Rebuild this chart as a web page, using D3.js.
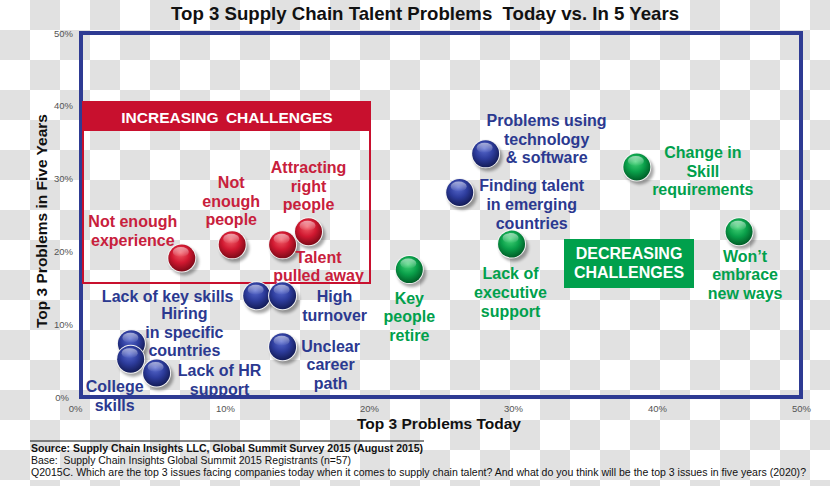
<!DOCTYPE html>
<html><head><meta charset="utf-8">
<script src="https://cdn.jsdelivr.net/npm/d3@7/dist/d3.min.js"></script>
<style>
html,body{margin:0;padding:0;background:#fff;}
svg{display:block;font-family:"Liberation Sans",Arial,sans-serif;}
.pre{white-space:pre;}
</style></head>
<body>
<svg id="chart" width="830" height="486"></svg>
<script>
// ---- data ----
const problems = [
  "Not enough\nexperience", "Not\nenough\npeople", "Attracting\nright\npeople", "Talent\npulled away",
  "Lack of key skills", "High\nturnover", "Hiring\nin specific\ncountries", "College\nskills",
  "Lack of HR\nsupport", "Unclear\ncareer\npath", "Problems using\ntechnology\n& software", "Finding talent\nin emerging\ncountries",
  "Key\npeople\nretire", "Lack of\nexecutive\nsupport", "Change in\nSkill\nrequirements", "Won\u2019t\nembrace\nnew ways"
];
const today     = [7.0, 10.5, 14.0, 15.8, 12.2, 14.0, 3.5, 3.45, 5.25, 14.0, 28.1, 26.3, 22.8, 29.9, 38.6, 45.7];
const fiveYears = [19.1, 20.9, 20.9, 22.7, 13.9, 13.9, 7.3, 5.2, 3.3, 6.9, 33.4, 28.1, 17.5, 21.0, 31.6, 22.7];
const trend     = ["up","up","up","up","flat","flat","flat","flat","flat","flat","flat","flat","down","down","down","down"];
const tickValues = [0, 10, 20, 30, 40, 50];
const tickLabels = ["0%", "10%", "20%", "30%", "40%", "50%"];
const titleText = "Top 3 Supply Chain Talent Problems  Today vs. In 5 Years";
const xTitle = "Top 3 Problems Today";
const yTitle = "Top 3 Problems in Five Years";
const regionTexts = ["INCREASING CHALLENGES", "DECREASING\nCHALLENGES"];
const notes = [
  "Source: Supply Chain Insights LLC, Global Summit Survey 2015 (August 2015)",
  "Base:  Supply Chain Insights Global Summit 2015 Registrants (n=57)",
  "Q2015C. Which are the top 3 issues facing companies today when it comes to supply chain talent? And what do you think will be the top 3 issues in five years (2020)?"
];

// ---- layout (label offsets from each ball, pixels) ----
const labelLayout = [
  [-49,-37],[-1,-63],[26,-78],[10,25],
  [-89,0],[52,0],[53,-31],[-16,27],
  [63,-3],[48,-1],[61,-34],[72,-7],
  [0,28],[-1,29],[66,-15],[6,24]
];
const palette = {
  up:   {text:"#c8203c", c0:"#f4606a", c1:"#d01830", c2:"#7e0a18"},
  flat: {text:"#2b3990", c0:"#5a6cd0", c1:"#2d3c9c", c2:"#141c58"},
  down: {text:"#00a04c", c0:"#48d67a", c1:"#0aa04a", c2:"#005f28"}
};

const svg = d3.select("#chart");
const W = 830, H = 486;
const x = d3.scaleLinear().domain([0, 50]).range([81, 801]);
const y = d3.scaleLinear().domain([0, 50]).range([397, 33]);

// checkerboard background
const defs = svg.append("defs");
const pat = defs.append("pattern").attr("id","chk").attr("width",60).attr("height",60)
  .attr("patternUnits","userSpaceOnUse");
pat.append("rect").attr("width",60).attr("height",60).attr("fill","#ffffff");
pat.append("rect").attr("x",30).attr("y",0).attr("width",30).attr("height",30).attr("fill","#e1e1e1");
pat.append("rect").attr("x",0).attr("y",30).attr("width",30).attr("height",30).attr("fill","#e1e1e1");
svg.append("rect").attr("width",W).attr("height",H).attr("fill","url(#chk)");

// gradients for balls
Object.entries(palette).forEach(([k, p]) => {
  const g = defs.append("radialGradient").attr("id","g-"+k)
    .attr("cx","45%").attr("cy","40%").attr("r","60%").attr("fx","45%").attr("fy","30%");
  g.append("stop").attr("offset","0%").attr("stop-color",p.c0);
  g.append("stop").attr("offset","55%").attr("stop-color",p.c1);
  g.append("stop").attr("offset","100%").attr("stop-color",p.c2);
});
const hl = defs.append("linearGradient").attr("id","hl").attr("x1",0).attr("y1",0).attr("x2",0).attr("y2",1);
hl.append("stop").attr("offset","0%").attr("stop-color","#fff").attr("stop-opacity",0.55);
hl.append("stop").attr("offset","100%").attr("stop-color","#fff").attr("stop-opacity",0);
const blur = defs.append("filter").attr("id","sh").attr("x","-50%").attr("y","-50%").attr("width","200%").attr("height","200%");
blur.append("feGaussianBlur").attr("stdDeviation",1.6);

// title
svg.append("text").attr("class","pre").attr("x",425).attr("y",20).attr("text-anchor","middle")
  .attr("font-size",19).attr("font-weight","bold").attr("fill","#111")
  .attr("textLength",508).attr("lengthAdjust","spacingAndGlyphs").text(titleText);

// axes (tick labels only)
const yAxis = d3.axisLeft(y).tickValues(tickValues).tickFormat((d,i)=>tickLabels[i]).tickSize(0).tickPadding(8);
const gy = svg.append("g").attr("transform","translate(81,0)").call(yAxis);
gy.select(".domain").remove();
gy.selectAll("text").attr("font-size",9.5).attr("fill","#555").attr("font-family","Liberation Sans, Arial, sans-serif");
const xAxis = d3.axisBottom(x).tickValues(tickValues).tickFormat((d,i)=>tickLabels[i]).tickSize(0).tickPadding(8);
const gx = svg.append("g").attr("transform","translate(0,397)").call(xAxis);
gx.select(".domain").remove();
gx.selectAll("text").attr("font-size",9.5).attr("fill","#555").attr("font-family","Liberation Sans, Arial, sans-serif");
gx.selectAll(".tick").filter(d=>d===0).select("text").attr("dx",-6);
gy.selectAll(".tick").filter(d=>d===0).select("text").attr("dx",-4);

// axis titles
svg.append("text").attr("transform",`translate(47,${(y(0)+y(50))/2+6}) rotate(-90)`)
  .attr("text-anchor","middle").attr("font-size",15.5).attr("font-weight","bold").attr("fill","#111").text(yTitle);
svg.append("text").attr("x",439).attr("y",429).attr("text-anchor","middle")
  .attr("font-size",15.5).attr("font-weight","bold").attr("fill","#111").text(xTitle);

// plot frame
svg.append("rect").attr("x",x(0)).attr("y",y(50)).attr("width",x(50)-x(0)).attr("height",y(0)-y(50))
  .attr("fill","none").attr("stroke","#2e3b93").attr("stroke-width",4);

// increasing challenges region
svg.append("rect").attr("x",83).attr("y",102).attr("width",287).attr("height",181)
  .attr("fill","none").attr("stroke","#c8102e").attr("stroke-width",2);
svg.append("rect").attr("x",83).attr("y",102).attr("width",287).attr("height",29).attr("fill","#c8102e");
svg.append("text").attr("x",227).attr("y",123).attr("text-anchor","middle").attr("font-size",15.5)
  .attr("font-weight","bold").attr("fill","#fff").attr("word-spacing",3).text(regionTexts[0]);

// decreasing challenges box
svg.append("rect").attr("x",564).attr("y",239).attr("width",130).attr("height",49).attr("fill","#00a04c");
regionTexts[1].split("\n").forEach((t,i)=>{
  svg.append("text").attr("x",629).attr("y",259+i*19).attr("text-anchor","middle").attr("font-size",16)
    .attr("font-weight","bold").attr("fill","#fff").text(t);
});

// data points
const pts = problems.map((p,i)=>({label:p, x:today[i], y:fiveYears[i], t:trend[i], off:labelLayout[i]}));
const R = 13.5;
const balls = svg.append("g").selectAll("g").data(pts).join("g")
  .attr("transform", d=>`translate(${x(d.x)},${y(d.y)})`);
balls.append("ellipse").attr("cx",2.5).attr("cy",3.5).attr("rx",R+1).attr("ry",R+0.5)
  .attr("fill","#000").attr("opacity",0.35).attr("filter","url(#sh)");
balls.append("circle").attr("r",R+1).attr("fill","#f4f4f4");
balls.append("circle").attr("r",R).attr("fill",d=>`url(#g-${d.t})`);
balls.append("ellipse").attr("cx",-1).attr("cy",-6).attr("rx",8).attr("ry",5).attr("fill","url(#hl)");

// labels
const lab = svg.append("g").selectAll("text").data(pts).join("text")
  .attr("text-anchor","middle").attr("font-size",16).attr("font-weight","bold")
  .attr("fill", d=>palette[d.t].text);
lab.each(function(d){
  const lines = d.label.split("\n");
  const t = d3.select(this);
  lines.forEach((ln,i)=>{
    t.append("tspan").attr("x", x(d.x)+d.off[0]).attr("y", y(d.y)+d.off[1]+6+i*18.7).text(ln);
  });
});

// footnotes
svg.append("line").attr("x1",30).attr("x2",424).attr("y1",441).attr("y2",441).attr("stroke","#111").attr("stroke-width",1);
const noteW = [392, 320, 775];
notes.forEach((n,i)=>{
  svg.append("text").attr("class","pre").attr("x",31).attr("y",452+i*12).attr("font-size",10.5)
    .attr("font-weight", i===0?"bold":"normal").attr("fill","#111")
    .attr("textLength",noteW[i]).attr("lengthAdjust","spacingAndGlyphs").text(n);
});
</script>
</body></html>
